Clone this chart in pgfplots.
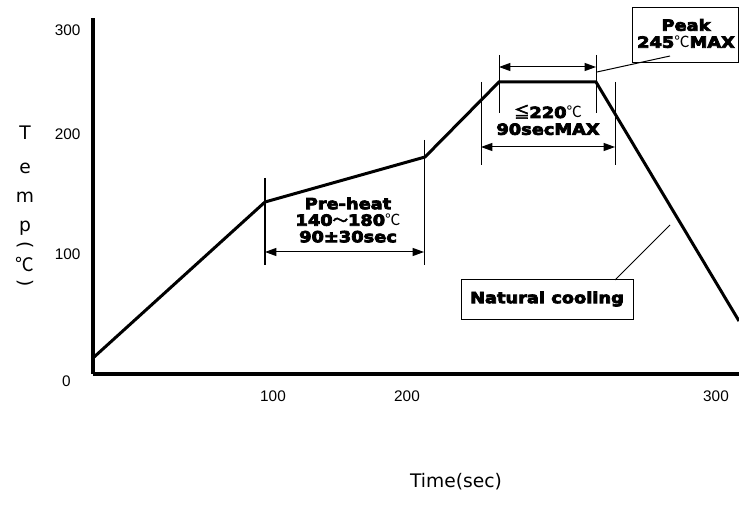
\documentclass[border=0pt]{standalone}
\usepackage{fontspec}
\usepackage{pgfplots}
\pgfplotsset{compat=1.18}
\usetikzlibrary{arrows.meta}
\setmainfont{Liberation Sans}
\newfontfamily\dejavu{DejaVu Sans}
\newfontfamily\heavy{DejaVu Sans}[UprightFont={* Bold}, UprightFeatures={FakeBold=5, FakeStretch=1.16}]
\newfontfamily\cjk{Noto Sans CJK SC}
\newfontfamily\cjkb{Noto Sans CJK SC}[FakeBold=4]
\begin{document}
\begin{tikzpicture}[>={Triangle[length=8.5pt,width=6pt]}]
\begin{axis}[
  scale only axis, width=484.5pt, height=267pt,
  xmin=0, xmax=646, ymin=0, ymax=356,
  axis lines=left,
  axis line style={-, line width=3pt, black},
  clip=false,
  xtick={180,314,623}, xticklabels={100,200,300},
  ytick={120,240,344}, yticklabels={100,200,300},
  extra y ticks={0}, extra y tick labels={0},
  extra y tick style={yticklabel style={yshift=-5.25pt, xshift=-1pt}},
  major tick length=0pt,
  tick label style={font=\fontsize{11.5}{13}\selectfont},
  xticklabel style={anchor=center, yshift=-17pt},
  yticklabel style={anchor=center, xshift=-19pt},
  /pgf/number format/assume math mode=true,
]
\coordinate (o) at (axis cs:0,0);
\addplot[line width=2.25pt, black] coordinates {(0,16) (172,172) (332,217) (406,292) (503,292) (646,53)};

% pre-heat
\draw[line width=0.75pt] (axis cs:172,196) -- (axis cs:172,109);
\draw[line width=0.75pt] (axis cs:331,234) -- (axis cs:331,109);
\draw[line width=0.75pt, <->] (axis cs:172,122) -- (axis cs:331,122);
\node[font=\heavy\fontsize{11.5}{12.4}\selectfont, align=center] at (axis cs:255,154) {Pre-heat\\140{\cjkb ～}180{\cjk ℃}\\90±30sec};

% peak time
\draw[line width=0.75pt] (axis cs:406,319) -- (axis cs:406,261);
\draw[line width=0.75pt] (axis cs:503,319) -- (axis cs:503,261);
\draw[line width=0.75pt, <->] (axis cs:406,307) -- (axis cs:503,307);

% 220 time
\draw[line width=0.75pt] (axis cs:388,292) -- (axis cs:388,209);
\draw[line width=0.75pt] (axis cs:522,292) -- (axis cs:522,209);
\draw[line width=0.75pt, <->] (axis cs:388,227) -- (axis cs:522,227);
\node[font=\heavy\fontsize{11.5}{12.6}\selectfont, align=center] at (axis cs:455,254) {{\cjkb ≦}220{\cjk ℃}\\90secMAX};

% peak box
\draw[line width=0.75pt, fill=white] (axis cs:539,311) rectangle (axis cs:645,366);
\node[font=\heavy\fontsize{11.5}{12.75}\selectfont, align=center] at (axis cs:593,340.5) {Peak\\245{\cjk ℃}MAX};
\draw[line width=0.75pt] (axis cs:504,302) -- (axis cs:577,318);

% natural cooling
\draw[line width=0.75pt] (axis cs:368,54) rectangle (axis cs:540,94);
\node[font=\heavy\fontsize{11.5}{12.6}\selectfont] at (axis cs:454,75) {Natural cooling};
\draw[line width=0.75pt] (axis cs:522,94) -- (axis cs:577,149);

% y label
\node[font=\dejavu\fontsize{14}{16}\selectfont] at (axis cs:-68,241) {T};
\node[font=\dejavu\fontsize{14}{16}\selectfont] at (axis cs:-68,206) {e};
\node[font=\dejavu\fontsize{14}{16}\selectfont] at (axis cs:-68,177) {m};
\node[font=\dejavu\fontsize{14}{16}\selectfont] at (axis cs:-68,146) {p};
\node[font=\dejavu\fontsize{14}{16}\selectfont, rotate=-90] at (axis cs:-68,129) {(};
\node[font=\cjk\fontsize{14}{16}\selectfont] at (axis cs:-68,109) {℃};
\node[font=\dejavu\fontsize{14}{16}\selectfont, rotate=-90] at (axis cs:-68,91) {)};

% x label
\node[font=\dejavu\fontsize{14}{16}\selectfont] at (axis cs:363,-108) {Time(sec)};
\end{axis}
\pgfresetboundingbox
\path[use as bounding box] ([shift={(-69.75pt,-107.25pt)}]o) rectangle ++(554.25pt,387.75pt);
\end{tikzpicture}
\end{document}
